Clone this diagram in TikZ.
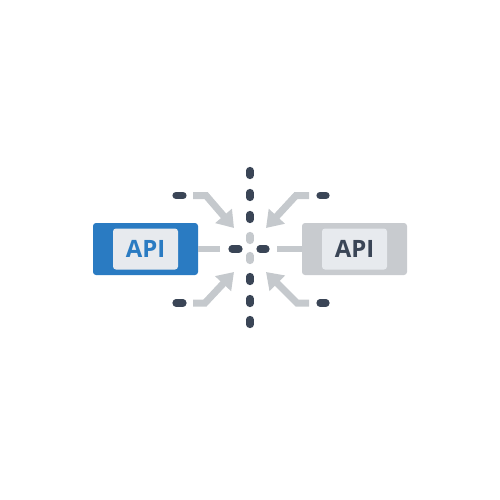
\documentclass[tikz,border=0pt]{standalone}
\usepackage{fontspec}
\setmainfont{Open Sans}
\usetikzlibrary{arrows.meta, positioning}
\definecolor{apiBlue}{RGB}{42,123,194}
\definecolor{apiGray}{RGB}{200,203,207}
\definecolor{innerColor}{RGB}{231,234,238}
\definecolor{dashColor}{RGB}{58,69,86}
\definecolor{stubColor}{RGB}{197,201,205}
\tikzset{apibox/.style={draw=none, minimum width=52.5mm, minimum height=26mm, rounded corners=1.5mm, inner sep=0pt}}
\tikzset{apilabel/.style={fill=innerColor, minimum width=32.5mm, minimum height=20.5mm, rounded corners=1.5mm, inner sep=0pt, font=\fontsize{34}{34}\selectfont\bfseries}}
\tikzset{darkbit/.style={draw=dashColor, line width=3.6mm, line cap=round}}
\tikzset{lightbit/.style={darkbit, draw=stubColor}}
\tikzset{stub/.style={draw=stubColor, line width=3.2mm}}
\tikzset{feed/.style={draw=stubColor, line width=3.5mm, -{Triangle[width=10.5mm, length=8mm]}}}

\begin{document}
\begin{tikzpicture}[x=0.5mm, y=-0.5mm]
	\useasboundingbox (0,0) rectangle (500,500);
	% Nodes
	\coordinate (cross) at (250,249);
	\node (leftapi) [apibox, fill=apiBlue] at (145.5,249) {};
	\node (leftlabel) [apilabel, text=apiBlue] at (leftapi) {API};
	\node (rightapi) [apibox, fill=apiGray] at (354.5,249) {};
	\node (rightlabel) [apilabel, text=dashColor] at (rightapi) {API};

	\coordinate (tlstart) at (193,195.5);
	\coordinate (blstart) at (193,303);
	\coordinate (trstart) at (309,195.5);
	\coordinate (brstart) at (309,303);
	\coordinate (tltip) at (234,228);
	\coordinate (bltip) at (234,272);
	\coordinate (trtip) at (266,228);
	\coordinate (brtip) at (266,272);

	% Dashed vertical
	\foreach \y in {173,195,217,279,301,322}
		\draw [darkbit] (250,\y-2.5) -- (250,\y+2.5);
	\foreach \y in {238,258}
		\draw [lightbit] (250,\y-2.5) -- (250,\y+2.5);

	% Connectors
	\draw [stub] (leftapi.east) -- (220,249);
	\draw [stub] (rightapi.west) -- (277,249);
	\draw [darkbit] ([xshift=-9mm]cross) -- ([xshift=-5.5mm]cross);
	\draw [darkbit] ([xshift=5mm]cross) -- ([xshift=8mm]cross);

	\draw [darkbit] ([xshift=-8.5mm]tlstart) -- ([xshift=-5mm]tlstart);
	\draw [darkbit] ([xshift=-8.5mm]blstart) -- ([xshift=-5mm]blstart);
	\draw [darkbit] ([xshift=5.5mm]trstart) -- ([xshift=8.5mm]trstart);
	\draw [darkbit] ([xshift=5.5mm]brstart) -- ([xshift=8.5mm]brstart);

	\draw [feed] (tlstart) -- ++(13,0) -- (tltip);
	\draw [feed] (blstart) -- ++(12,0) -- (bltip);
	\draw [feed] (trstart) -- ++(-13,0) -- (trtip);
	\draw [feed] (brstart) -- ++(-12,0) -- (brtip);
\end{tikzpicture}
\end{document}
